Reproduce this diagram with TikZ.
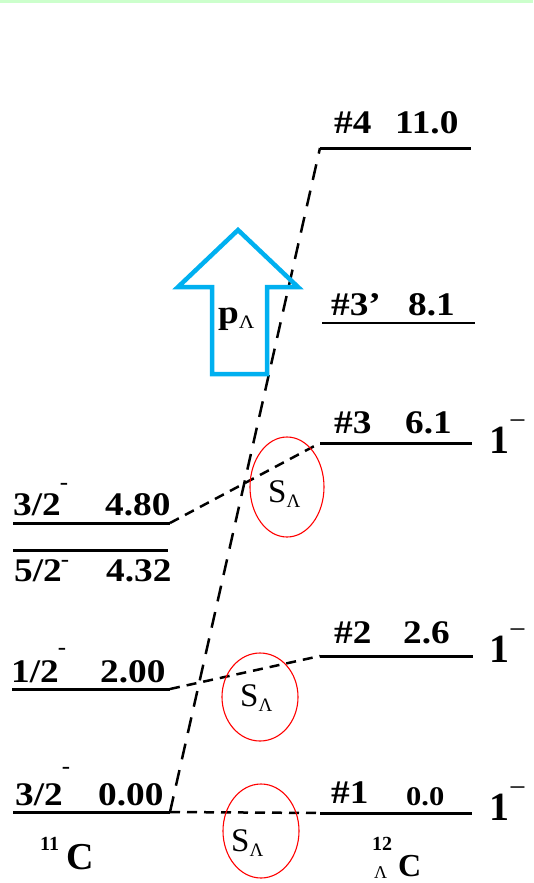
\documentclass[tikz,border=0pt]{standalone}
\usepackage{fontspec}
\setmainfont{Liberation Serif}
\newfontfamily\wide[FakeStretch=1.13]{Liberation Serif}
\definecolor{topgreen}{RGB}{204,255,204}
\definecolor{arrowblue}{RGB}{0,176,240}
\newcommand\fs[1]{\fontsize{#1}{#1}\selectfont}
\newcommand\supmin[1]{\kern-1pt\raisebox{#1}{\fs{22}\bfseries -}}
\newcommand\supMinus{\raisebox{23pt}{\fs{30}\mdseries −}}
\newcommand\lam{\raisebox{-5pt}{\fs{19}\mdseries Λ}}
\begin{document}
\begin{tikzpicture}[x=1pt,y=-1pt,
  lvl/.style={line width=3pt},
  lvlthin/.style={line width=1.8pt},
  dsh/.style={line width=2.5pt,dash pattern=on 10pt off 7pt},
  dshlong/.style={line width=2.5pt,dash pattern=on 16pt off 11pt},
  lbl/.style={font=\wide\fs{33}\bfseries,inner sep=0pt,anchor=base west},
  big/.style={font=\fs{40}\bfseries,inner sep=0pt,anchor=base west},
  sml/.style={font=\fs{20}\bfseries,inner sep=0pt,anchor=base west},
  slam/.style={font=\fs{33},inner sep=0pt,anchor=base west},
  circ/.style={draw=red,line width=1.1pt}]
\useasboundingbox (0,0) rectangle (533,883);
\fill[topgreen] (0,0) rectangle (533,3.5);

% ---- left levels (11C)
\coordinate (a48w) at (13,523); \coordinate (a48e) at (170,523);
\coordinate (a43w) at (13,550); \coordinate (a43e) at (168,550);
\coordinate (a20w) at (12,689); \coordinate (a20e) at (170,689);
\coordinate (a00w) at (13,812); \coordinate (a00e) at (170,812);
\draw[lvl] (a48w) -- (a48e);
\draw[lvl] (a43w) -- (a43e);
\draw[lvl] (a20w) -- (a20e);
\draw[lvl] (a00w) -- (a00e);

\node[lbl] (t48j) at (13,515) {3/2\supmin{26pt}};
\node[lbl] (t48e) at (105,515) {4.80};
\node[lbl] (t43j) at (14,581) {5/2\supmin{15pt}};
\node[lbl] (t43e) at (106,581) {4.32};
\node[lbl] (t20j) at (11,682) {1/2\supmin{28pt}};
\node[lbl] (t20e) at (100,682) {2.00};
\node[lbl] (t00j) at (15,805) {3/2\supmin{32pt}};
\node[lbl] (t00e) at (98,805) {0.00};
\node[sml] (t11) at (40,850) {11};
\node[font=\fs{38}\bfseries,inner sep=0pt,anchor=base west] (tC11) at (66,869) {C};

% ---- right levels (12LC)
\coordinate (b4w) at (320,148); \coordinate (b4e) at (471,148);
\coordinate (b3pw) at (322,323); \coordinate (b3pe) at (475,323);
\coordinate (b3w) at (320,443); \coordinate (b3e) at (472,443);
\coordinate (b2w) at (320,656); \coordinate (b2e) at (473,656);
\coordinate (b1w) at (320,813); \coordinate (b1e) at (472,813);
\draw[lvl] (b4w) -- (b4e);
\draw[lvlthin] (b3pw) -- (b3pe);
\draw[lvl] (b3w) -- (b3e);
\draw[lvl] (b2w) -- (b2e);
\draw[lvl] (b1w) -- (b1e);

\node[lbl] (n4) at (334,133) {\#4};
\node[lbl] (e4) at (395,133) {11.0};
\node[lbl] (n3p) at (331,315) {\#3’};
\node[lbl] (e3p) at (408,315) {8.1};
\node[lbl] (n3) at (334,433) {\#3};
\node[lbl] (e3) at (405,433) {6.1};
\node[big] (j3) at (489,453) {1\supMinus};
\node[lbl] (n2) at (334,643) {\#2};
\node[lbl] (e2) at (403,643) {2.6};
\node[big] (j2) at (489,662) {1\supMinus};
\node[lbl] (n1) at (331,803) {\#1};
\node[lbl,font=\wide\fs{27}\bfseries] (e1) at (406,805) {0.0};
\node[big] (j1) at (489,820) {1\supMinus};
\node[sml] (t12) at (372,850) {12};
\node[inner sep=0pt,anchor=base west,font=\fs{18}] (tL) at (374,878) {Λ};
\node[font=\fs{32}\bfseries,inner sep=0pt,anchor=base west] (tC12) at (398,876) {C};

% ---- dashed connectors
\draw[dshlong] (a00e) -- (b4w);
\draw[dsh] (a48e) -- (b3w);
\draw[dsh] (a20e) -- (b2w);
\draw[dsh] (a00e) -- (b1w);

% ---- red circles and S_Lambda
\draw[circ] (287,487) ellipse [x radius=37, y radius=50];
\draw[circ] (260,697) ellipse [x radius=38, y radius=44];
\draw[circ] (261,831) ellipse [x radius=38, y radius=47];
\node[slam] (s3) at (268,502) {S\lam};
\node[slam] (s2) at (240,706) {S\lam};
\node[slam] (s1) at (231,851) {S\lam};

% ---- blue arrow
\draw[arrowblue,line width=4.5pt,line join=miter]
  (212,374) -- (212,287) -- (178,287) -- (238,230) -- (298,287) -- (267,287) -- (267,374) -- cycle;
\node[lbl] (pL) at (218,323) {p\raisebox{-5pt}{\fs{19}\mdseries Λ}};
\end{tikzpicture}
\end{document}
